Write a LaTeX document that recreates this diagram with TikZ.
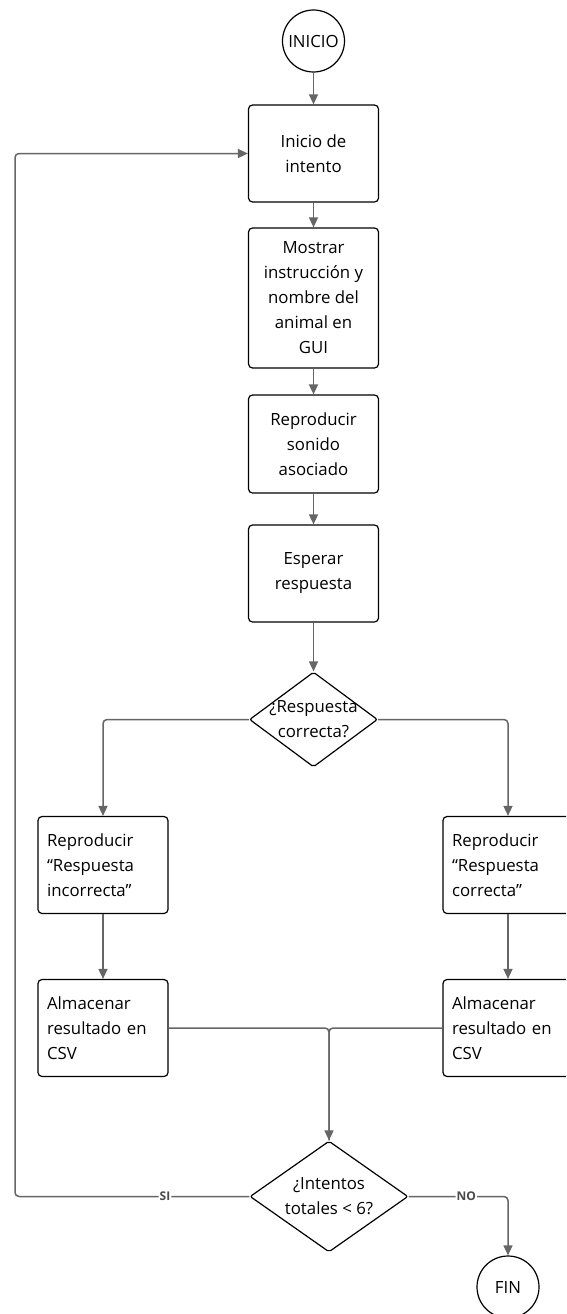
\documentclass[tikz,border=0pt]{standalone}
\usepackage{fontspec}
\setmainfont{Open Sans}
\usetikzlibrary{shapes.geometric,arrows.meta}
\definecolor{conn}{HTML}{666666}
\definecolor{lbl}{HTML}{4A4A4A}
\tikzset{
  base/.style={font=\fontsize{16.8}{25}\selectfont, text=black},
  stepbox/.style={base, draw=black, line width=1.2pt, rounded corners=4pt,
    minimum width=130pt, minimum height=97pt, align=center, inner sep=0pt},
  leftbox/.style={stepbox, text width=112pt, align=left},
  terminal/.style={base, draw=black, line width=1.2pt, circle, minimum size=62pt, inner sep=0pt},
  decision/.style={draw=black, line width=1.2pt, diamond, rounded corners=2pt, inner sep=0pt},
  dtext/.style={base, align=center, inner sep=0pt},
  flow/.style={draw=conn, line width=1.5pt, rounded corners=4pt,
    -{Triangle[length=10pt,width=9pt]}},
  plain/.style={draw=conn, line width=1.5pt, rounded corners=4pt},
  branch/.style={font=\bfseries\fontsize{12}{12}\selectfont, text=lbl,
    fill=white, inner sep=1pt},
}
\begin{document}
\begin{tikzpicture}[x=1pt,y=-1pt]
  \clip (0,0) rectangle (566,1314);
  \fill[white] (0,0) rectangle (566,1314);

  % start / end
  \node[terminal] (inicio) at (313.5,41) {INICIO};
  \node[terminal] (fin) at (508,1287) {FIN};

  % main column
  \node[stepbox] (intento) at (313.5,153.5) {Inicio de\\intento};
  \node[stepbox, minimum height=140pt] (mostrar) at (313.5,298) {Mostrar\\instrucción y\\nombre del\\animal en\\GUI};
  \node[stepbox, minimum height=98pt] (sonido) at (313.5,444) {Reproducir\\sonido\\asociado};
  \node[stepbox] (esperar) at (313.5,573.5) {Esperar\\respuesta};

  % first decision
  \node[decision, minimum width=128pt, minimum height=95pt,
        label={[dtext]center:¿Respuesta\\correcta?}] (d1) at (313.5,719.5) {};

  % branches
  \node[leftbox] (rinc) at (103,865) {Reproducir\\“Respuesta\\incorrecta”};
  \node[leftbox] (rcor) at (508,865) {Reproducir\\“Respuesta\\correcta”};
  \node[leftbox] (ainc) at (103,1028) {Almacenar\\resultado en\\CSV};
  \node[leftbox] (acor) at (508,1028) {Almacenar\\resultado en\\CSV};

  % second decision
  \node[decision, minimum width=158pt, minimum height=111pt,
        label={[dtext]center:¿Intentos\\totales < 6?}] (d2) at (329,1196.5) {};

  \coordinate (loopx) at (15,0);

  % connectors
  \draw[flow] (inicio) -- (intento);
  \draw[flow] (intento) -- (mostrar);
  \draw[flow] (mostrar) -- (sonido);
  \draw[flow] (sonido) -- (esperar);
  \draw[flow] (esperar) -- (d1.north);
  \draw[flow] (d1.west) -| (rinc.north);
  \draw[flow] (d1.east) -| (rcor.north);
  \draw[flow] (rinc) -- (ainc);
  \draw[flow] (rcor) -- (acor);
  \draw[plain] (ainc.east) -| (d2.north);
  \draw[flow] (acor.west) -| (d2.north);
  \draw[flow] (d2.west) -- node[branch, pos=0.36] {SI} (d2.west -| loopx)
    |- (intento.west);
  \draw[flow] (d2.east) -- node[branch, pos=0.58] {NO} (d2.east -| fin) -- (fin.north);
\end{tikzpicture}
\end{document}
